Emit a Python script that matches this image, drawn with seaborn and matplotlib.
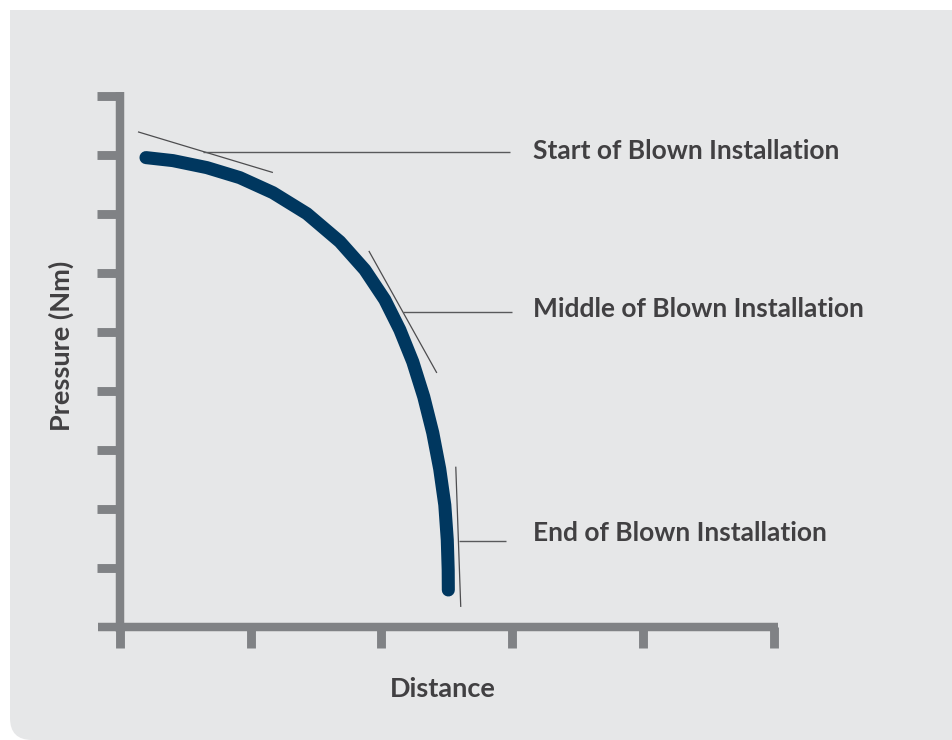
import numpy as np
import pandas as pd
import seaborn as sns
import matplotlib.pyplot as plt
from matplotlib.patches import FancyBboxPatch, Rectangle

# Pressure curve (x = distance, y = pressure)
distance = [0.199, 0.405, 0.665, 0.917, 1.170, 1.430, 1.682, 1.873, 2.026,
            2.141, 2.240, 2.324, 2.393, 2.446, 2.485, 2.504, 2.511, 2.512]
pressure = [7.963, 7.912, 7.793, 7.623, 7.368, 7.012, 6.537, 6.061, 5.552,
            5.042, 4.499, 3.905, 3.294, 2.683, 2.071, 1.477, 0.968, 0.628]

x_ticks = [0, 1, 2, 3, 4, 5]
y_ticks = [1, 2, 3, 4, 5, 6, 7, 8, 9]

# Callouts: label, tangent segment, leader line (data coords)
callout_labels = ['Start of Blown Installation', 'Middle of Blown Installation', 'End of Blown Installation']
tangent_x = [(0.138, 1.170), (1.904, 2.424), (2.569, 2.607)]
tangent_y = [(8.40, 7.71), (6.38, 4.31), (2.72, 0.34)]
leader_x = [(0.635, 2.98), (2.164, 2.997), (2.592, 2.951)]
leader_y = [8.06, 5.35, 1.46]
label_x = 3.16
label_y = [8.08, 5.40, 1.60]

navy = '#00375f'
axis_grey = '#808285'
text_grey = '#414042'
panel = '#e6e7e8'

sns.set_theme(style='white')
plt.rcParams['font.family'] = ['Lato', 'DejaVu Sans']

fig = plt.figure(figsize=(9.52, 7.40), dpi=100, facecolor='white')

# background panel: square top-left, rounded bottom-left
fig.add_artist(Rectangle((0.10, 3.0), 10.0, 4.30, transform=fig.dpi_scale_trans,
                         facecolor=panel, edgecolor='none', zorder=0))
fig.add_artist(FancyBboxPatch((0.10, 0.0), 10.0, 5.0, boxstyle='round,pad=0,rounding_size=0.22',
                              transform=fig.dpi_scale_trans, facecolor=panel, edgecolor='none', zorder=0))

ax = fig.add_axes([98 / 952, 108 / 740, 680 / 952, 540 / 740])
ax.set_facecolor('none')

df = pd.DataFrame({'Distance': distance, 'Pressure': pressure})
sns.lineplot(data=df, x='Distance', y='Pressure', estimator=None, sort=False,
             color=navy, linewidth=9.4, solid_capstyle='round', solid_joinstyle='round',
             ax=ax, zorder=3)

for tx, ty, lx, ly, lab, yy in zip(tangent_x, tangent_y, leader_x, leader_y, callout_labels, label_y):
    ax.plot(tx, ty, color='#4d4d4f', linewidth=0.9, solid_capstyle='butt', zorder=4, clip_on=False)
    ax.plot(lx, [ly, ly], color='#58595b', linewidth=1.0, solid_capstyle='butt', zorder=4, clip_on=False)
    ax.text(label_x, yy, lab, fontsize=19, fontweight='bold', color=text_grey,
            ha='left', va='center')

ax.set_xlim(-0.168, 5.034)
ax.set_ylim(-0.085, 9.076)
ax.set_xticks(x_ticks)
ax.set_yticks(y_ticks)
ax.set_xticklabels([])
ax.set_yticklabels([])

for side in ['top', 'right']:
    ax.spines[side].set_visible(False)
for side in ['left', 'bottom']:
    ax.spines[side].set_position(('data', 0))
    ax.spines[side].set_linewidth(6.1)
    ax.spines[side].set_color(axis_grey)
    ax.spines[side].set_capstyle('butt')
ax.spines['left'].set_bounds(-0.085, 9.076)
ax.spines['bottom'].set_bounds(-0.168, 5.034)

ax.tick_params(axis='x', direction='out', length=15.1, width=6.4, color=axis_grey, bottom=True)
ax.tick_params(axis='y', direction='out', length=16.6, width=6.4, color=axis_grey, left=True)

ax.set_xlabel('Distance', fontsize=19.5, fontweight='bold', color=text_grey)
ax.set_ylabel('Pressure (Nm)', fontsize=19.5, fontweight='bold', color=text_grey)
ax.xaxis.set_label_coords(0.507, -0.106)
ax.xaxis.label.set_va('center')
ax.yaxis.set_label_coords(-0.054, 0.53)
ax.yaxis.label.set_va('center')

fig.savefig('out.png', dpi=100, facecolor='white')
